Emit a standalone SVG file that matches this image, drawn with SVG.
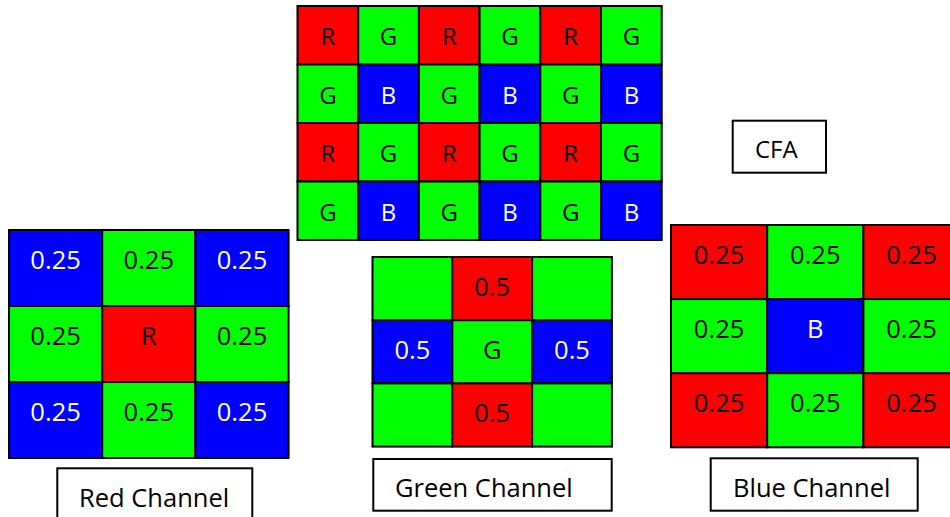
<svg xmlns="http://www.w3.org/2000/svg" width="950" height="517" viewBox="0 0 950 517">
  <style>
    .cell { stroke: #000; stroke-width: 2; }
    .r { fill: #FF0000; }
    .g { fill: #00FF00; }
    .b { fill: #0000FF; }
    text { font-family: "Open Sans", "Noto Sans", sans-serif; text-anchor: middle; }
    .big { font-size: 25.5px; }
    .small { font-size: 24px; }
    .dk { fill: #000; }
    .lt { fill: #fff; }
    .box { fill: #fff; stroke: #000; stroke-width: 2; }
    .lbl { text-anchor: start; fill: #000; }
  </style>

  <!-- Bayer colour filter array, 6 x 4 -->
  <g id="cfa-grid">
    <rect class="cell r" x="297.5" y="6" width="60.7" height="58.5"/>
    <rect class="cell g" x="358.2" y="6" width="60.7" height="58.5"/>
    <rect class="cell r" x="418.9" y="6" width="60.7" height="58.5"/>
    <rect class="cell g" x="479.6" y="6" width="60.7" height="58.5"/>
    <rect class="cell r" x="540.3" y="6" width="60.7" height="58.5"/>
    <rect class="cell g" x="601.0" y="6" width="60.7" height="58.5"/>

    <rect class="cell g" x="297.5" y="64.5" width="60.7" height="58.5"/>
    <rect class="cell b" x="358.2" y="64.5" width="60.7" height="58.5"/>
    <rect class="cell g" x="418.9" y="64.5" width="60.7" height="58.5"/>
    <rect class="cell b" x="479.6" y="64.5" width="60.7" height="58.5"/>
    <rect class="cell g" x="540.3" y="64.5" width="60.7" height="58.5"/>
    <rect class="cell b" x="601.0" y="64.5" width="60.7" height="58.5"/>

    <rect class="cell r" x="297.5" y="123" width="60.7" height="58.5"/>
    <rect class="cell g" x="358.2" y="123" width="60.7" height="58.5"/>
    <rect class="cell r" x="418.9" y="123" width="60.7" height="58.5"/>
    <rect class="cell g" x="479.6" y="123" width="60.7" height="58.5"/>
    <rect class="cell r" x="540.3" y="123" width="60.7" height="58.5"/>
    <rect class="cell g" x="601.0" y="123" width="60.7" height="58.5"/>

    <rect class="cell g" x="297.5" y="181.5" width="60.7" height="58.5"/>
    <rect class="cell b" x="358.2" y="181.5" width="60.7" height="58.5"/>
    <rect class="cell g" x="418.9" y="181.5" width="60.7" height="58.5"/>
    <rect class="cell b" x="479.6" y="181.5" width="60.7" height="58.5"/>
    <rect class="cell g" x="540.3" y="181.5" width="60.7" height="58.5"/>
    <rect class="cell b" x="601.0" y="181.5" width="60.7" height="58.5"/>

    <g class="small">
      <text class="dk" x="327.9" y="45">R</text>
      <text class="dk" x="388.6" y="45">G</text>
      <text class="dk" x="449.3" y="45">R</text>
      <text class="dk" x="510.0" y="45">G</text>
      <text class="dk" x="570.7" y="45">R</text>
      <text class="dk" x="631.4" y="45">G</text>

      <text class="dk" x="327.9" y="103.5">G</text>
      <text class="lt" x="388.6" y="103.5">B</text>
      <text class="dk" x="449.3" y="103.5">G</text>
      <text class="lt" x="510.0" y="103.5">B</text>
      <text class="dk" x="570.7" y="103.5">G</text>
      <text class="lt" x="631.4" y="103.5">B</text>

      <text class="dk" x="327.9" y="162">R</text>
      <text class="dk" x="388.6" y="162">G</text>
      <text class="dk" x="449.3" y="162">R</text>
      <text class="dk" x="510.0" y="162">G</text>
      <text class="dk" x="570.7" y="162">R</text>
      <text class="dk" x="631.4" y="162">G</text>

      <text class="dk" x="327.9" y="220.5">G</text>
      <text class="lt" x="388.6" y="220.5">B</text>
      <text class="dk" x="449.3" y="220.5">G</text>
      <text class="lt" x="510.0" y="220.5">B</text>
      <text class="dk" x="570.7" y="220.5">G</text>
      <text class="lt" x="631.4" y="220.5">B</text>
    </g>
  </g>

  <g id="cfa-label">
    <rect class="box" x="732.7" y="120.7" width="93.3" height="52"/>
    <text class="lbl small" x="755" y="158.3">CFA</text>
  </g>

  <!-- Red channel interpolation kernel -->
  <g id="red-kernel">
    <rect class="cell b" x="9" y="230" width="93.2" height="76"/>
    <rect class="cell g" x="102.2" y="230" width="93.2" height="76"/>
    <rect class="cell b" x="195.4" y="230" width="93.2" height="76"/>
    <rect class="cell g" x="9" y="306" width="93.2" height="76"/>
    <rect class="cell r" x="102.2" y="306" width="93.2" height="76"/>
    <rect class="cell g" x="195.4" y="306" width="93.2" height="76"/>
    <rect class="cell b" x="9" y="382" width="93.2" height="76"/>
    <rect class="cell g" x="102.2" y="382" width="93.2" height="76"/>
    <rect class="cell b" x="195.4" y="382" width="93.2" height="76"/>
    <g class="big">
      <text class="lt" x="55.6" y="269">0.25</text>
      <text class="dk" x="148.8" y="269">0.25</text>
      <text class="lt" x="242.0" y="269">0.25</text>
      <text class="dk" x="55.6" y="345">0.25</text>
      <text class="dk" x="148.8" y="345">R</text>
      <text class="dk" x="242.0" y="345">0.25</text>
      <text class="lt" x="55.6" y="421">0.25</text>
      <text class="dk" x="148.8" y="421">0.25</text>
      <text class="lt" x="242.0" y="421">0.25</text>
    </g>
  </g>

  <g id="red-label">
    <rect class="box" x="57.3" y="468.3" width="195" height="60"/>
    <text class="lbl big" x="79" y="506.6">Red Channel</text>
  </g>

  <!-- Green channel interpolation kernel -->
  <g id="green-kernel">
    <rect class="cell g" x="372.5" y="257" width="79.8" height="63.2"/>
    <rect class="cell r" x="452.3" y="257" width="79.8" height="63.2"/>
    <rect class="cell g" x="532.1" y="257" width="79.8" height="63.2"/>
    <rect class="cell b" x="372.5" y="320.2" width="79.8" height="63.2"/>
    <rect class="cell g" x="452.3" y="320.2" width="79.8" height="63.2"/>
    <rect class="cell b" x="532.1" y="320.2" width="79.8" height="63.2"/>
    <rect class="cell g" x="372.5" y="383.4" width="79.8" height="63.2"/>
    <rect class="cell r" x="452.3" y="383.4" width="79.8" height="63.2"/>
    <rect class="cell g" x="532.1" y="383.4" width="79.8" height="63.2"/>
    <g class="big">
      <text class="dk" x="492.2" y="296">0.5</text>
      <text class="lt" x="412.4" y="359.2">0.5</text>
      <text class="dk" x="492.2" y="359.2">G</text>
      <text class="lt" x="572.0" y="359.2">0.5</text>
      <text class="dk" x="492.2" y="422.4">0.5</text>
    </g>
  </g>

  <g id="green-label">
    <rect class="box" x="373.3" y="459" width="238.4" height="51.7"/>
    <text class="lbl big" x="395" y="497.3">Green Channel</text>
  </g>

  <!-- Blue channel interpolation kernel -->
  <g id="blue-kernel">
    <rect class="cell r" x="671" y="225" width="96.2" height="74.1"/>
    <rect class="cell g" x="767.2" y="225" width="96.2" height="74.1"/>
    <rect class="cell r" x="863.4" y="225" width="96.2" height="74.1"/>
    <rect class="cell g" x="671" y="299.1" width="96.2" height="74.1"/>
    <rect class="cell b" x="767.2" y="299.1" width="96.2" height="74.1"/>
    <rect class="cell g" x="863.4" y="299.1" width="96.2" height="74.1"/>
    <rect class="cell r" x="671" y="373.2" width="96.2" height="74.1"/>
    <rect class="cell g" x="767.2" y="373.2" width="96.2" height="74.1"/>
    <rect class="cell r" x="863.4" y="373.2" width="96.2" height="74.1"/>
    <g class="big">
      <text class="dk" x="719.1" y="264">0.25</text>
      <text class="dk" x="815.3" y="264">0.25</text>
      <text class="dk" x="911.5" y="264">0.25</text>
      <text class="dk" x="719.1" y="338.1">0.25</text>
      <text class="lt" x="815.3" y="338.1">B</text>
      <text class="dk" x="911.5" y="338.1">0.25</text>
      <text class="dk" x="719.1" y="412.2">0.25</text>
      <text class="dk" x="815.3" y="412.2">0.25</text>
      <text class="dk" x="911.5" y="412.2">0.25</text>
    </g>
  </g>

  <g id="blue-label">
    <rect class="box" x="710.7" y="458.3" width="207" height="52.4"/>
    <text class="lbl big" x="733" y="496.6">Blue Channel</text>
  </g>
</svg>
